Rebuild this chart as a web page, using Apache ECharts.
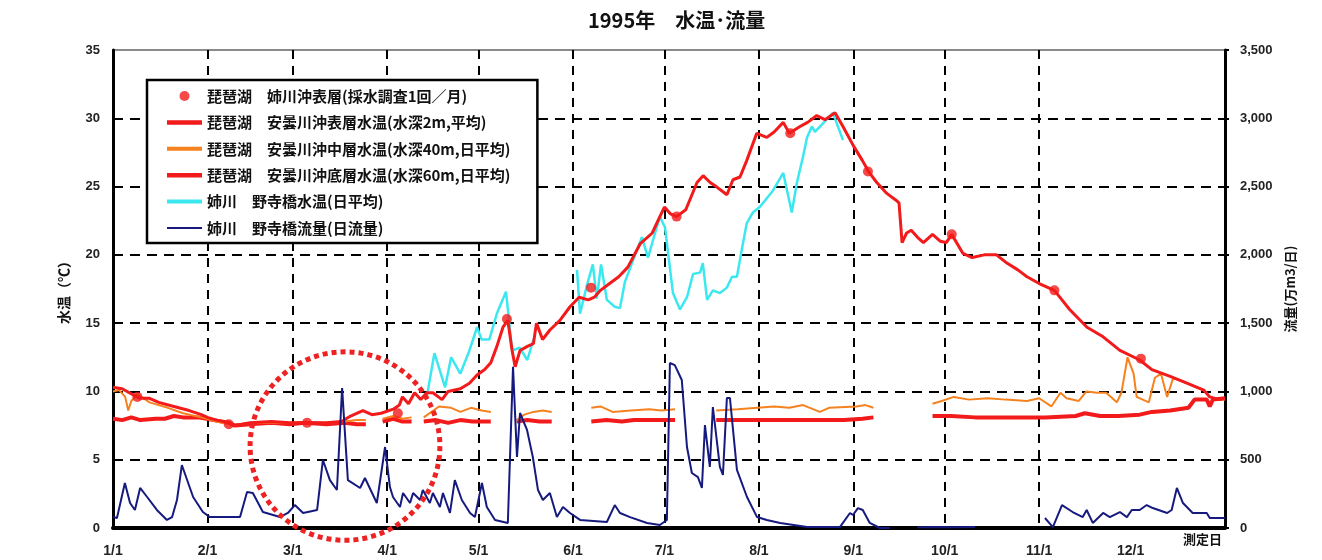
<!DOCTYPE html>
<html>
<head>
<meta charset="utf-8">
<script src="https://cdn.jsdelivr.net/npm/echarts@6.0.0/dist/echarts.min.js"></script>
<style>
  html, body { margin: 0; padding: 0; background: #fff; }
  #main { width: 1322px; height: 560px; }
</style>
</head>
<body>
<div id="main"></div>
<script>
// x = day of year (1/1 = 0), temperatures in °C, flow in 万m3/日
const monthStarts = [0, 31, 59, 90, 120, 151, 181, 212, 243, 273, 304, 334];
const monthLabels = ['1/1', '2/1', '3/1', '4/1', '5/1', '6/1', '7/1', '8/1', '9/1', '10/1', '11/1', '12/1'];

// 姉川沖表層 (monthly sampling)
const anegawaOffSurface = [[8, 9.6], [38, 7.6], [63.7, 7.7], [93.5, 8.4], [129.3, 15.3], [156.9, 17.6],
  [185, 22.8], [222.3, 28.9], [247.8, 26.1], [275.3, 21.5], [309, 17.4], [337.4, 12.4]];

// 安曇川沖表層 (2m)
const adoSurface = [[0, 10.3], [3, 10.2], [7, 9.7], [9, 9.5], [12, 9.5], [15, 9.2], [20, 8.9], [25, 8.6],
  [29, 8.3], [31, 8.1], [34, 7.9], [38, 7.7], [40, 7.5], [45, 7.7], [52, 7.8], [58, 7.7], [63, 7.7],
  [70, 7.7], [75, 7.8], [78, 8.2], [80, 8.4], [82, 8.6], [85, 8.3], [88, 8.4], [92, 8.7], [94, 9.0],
  [95, 9.6], [97, 9.1], [99, 9.9], [101, 9.4], [103, 9.9], [105, 9.9], [108, 9.4], [110, 10.0],
  [114, 10.2], [117, 10.6], [119.5, 11.2], [122, 11.6], [124, 12.1], [126, 13.3], [128, 14.7],
  [129.6, 15.2], [131, 13.0], [132, 11.8], [133.6, 13.0], [136, 13.3], [138, 13.5], [139, 15.0],
  [141, 13.8], [143.4, 14.5], [146.7, 15.2], [150, 16.2], [153, 16.9], [156, 16.7], [158, 16.9],
  [160, 17.4], [163, 17.9], [166, 18.4], [169, 19.1], [173, 20.8], [177, 21.6], [179.5, 22.8],
  [181, 23.5], [183, 23.0], [185, 22.8], [188, 23.3], [191.7, 25.3], [193.7, 25.8], [196, 25.3],
  [198, 25.0], [201.5, 24.4], [203.5, 25.5], [205.8, 25.7], [208, 26.9], [211.3, 28.9], [214.6, 28.6],
  [217, 29.0], [220, 29.7], [222, 28.9], [225.5, 29.4], [228, 29.7], [231, 30.2], [233.7, 29.9],
  [237, 30.4], [239.6, 29.4], [243, 28.0], [246, 26.9], [248, 26.1], [250.7, 25.3], [254, 24.5],
  [257, 24.0], [258, 23.8], [259, 20.9], [260.5, 21.6], [262, 21.8], [264, 21.3], [266, 20.9],
  [269, 21.5], [271.5, 21.0], [273.5, 20.9], [275.3, 21.5], [279, 20.1], [282, 19.8], [286, 20.0],
  [290, 20.0], [293.4, 19.4], [297, 18.9], [300, 18.4], [304, 17.9], [309, 17.4], [314, 16.0],
  [319.7, 14.7], [325, 14.0], [330.5, 13.0], [337, 12.3], [341, 11.6], [347, 11.1], [352.5, 10.6],
  [358, 10.1], [360, 9.6], [363, 9.4], [365, 9.5]];

// 安曇川沖中層 (40m), '-' = no data
const adoMiddle = [[0, 10.0], [2, 10.1], [4, 9.6], [5, 8.6], [6, 9.3], [8, 9.8], [12, 9.2], [18, 8.8],
  [23, 8.4], [29, 8.1], [34, 7.8], [38, 7.6], [40, 7.5], [45, 7.7], [52, 7.7], [58, 7.7], [63, 7.7],
  [70, 7.7], [76, 7.8], [80, 7.9], [83, 7.9], [83.1, '-'],
  [88.5, 8.0], [92, 8.2], [95, 8.0], [98, 8.1], [98.1, '-'],
  [102, 8.1], [107, 8.9], [111, 8.8], [114, 8.5], [117.5, 8.8], [121, 8.6], [124, 8.5], [124.1, '-'],
  [132.5, 7.9], [135, 8.3], [138, 8.5], [141, 8.6], [144, 8.5], [144.1, '-'],
  [157, 8.8], [160, 8.9], [164, 8.5], [170, 8.6], [176, 8.7], [180, 8.6], [184.5, 8.7], [184.6, '-'],
  [198, 8.6], [205, 8.7], [217, 8.9], [222, 8.8], [226.5, 9.0], [232, 8.5], [235, 8.8], [244, 8.9],
  [247, 9.0], [249.6, 8.8], [249.7, '-'],
  [269, 9.1], [272, 9.3], [276, 9.6], [281, 9.4], [287, 9.5], [293, 9.4], [300, 9.3], [304, 9.5],
  [308, 8.9], [311, 9.9], [313, 9.5], [317, 9.3], [319.5, 10.0], [323, 9.9], [326, 9.9], [329.5, 9.2],
  [331, 9.9], [333, 12.5], [335, 11.3], [336, 9.6], [340, 9.2], [342, 11.0], [344, 11.3], [346, 9.6],
  [348, 11.0], [352.5, 10.6], [358, 10.1], [360, 9.6], [363, 9.4], [365, 9.4]];

// 安曇川沖底層 (60m)
const adoBottom = [[0, 8.0], [3, 7.9], [6, 8.1], [9, 7.9], [14, 8.0], [17, 8.0], [20, 8.2], [23, 8.1],
  [28, 8.1], [33, 7.9], [38, 7.7], [40, 7.5], [45, 7.6], [52, 7.7], [58, 7.6], [63, 7.7], [70, 7.6],
  [76, 7.7], [80, 7.6], [83, 7.6], [83.1, '-'],
  [88.5, 7.8], [92, 8.0], [95, 7.8], [98, 7.8], [98.1, '-'],
  [102, 7.8], [106, 7.9], [110, 7.7], [114, 7.9], [118, 7.8], [124, 7.8], [124.1, '-'],
  [132.5, 7.8], [136, 7.9], [140, 7.8], [144, 7.8], [144.1, '-'],
  [157, 7.8], [162, 7.9], [167, 7.8], [171, 7.9], [176, 7.9], [184.5, 7.9], [184.6, '-'],
  [198, 7.9], [210, 7.9], [225, 7.9], [240, 7.9], [246, 8.0], [249.6, 8.1], [249.7, '-'],
  [269, 8.2], [275, 8.2], [283, 8.1], [290, 8.1], [300, 8.1], [306, 8.1], [316, 8.2], [319, 8.4],
  [324, 8.2], [330, 8.2], [337, 8.3], [341, 8.5], [347, 8.6], [353, 8.8], [355, 9.4], [359, 9.4],
  [360, 8.9], [361, 9.4], [365, 9.5]];

// 野寺橋水温
const nodera = [[103, 9.6], [105.5, 12.8], [109, 10.3], [111, 12.5], [114, 11.3], [117, 13.0],
  [119.5, 14.7], [121, 13.8], [123.5, 13.8], [126, 15.7], [129, 17.3], [131, 13.0], [133.5, 13.2],
  [136, 12.3], [138, 13.8], [138.1, '-'],
  [152.3, 18.9], [153.3, 15.7], [155.6, 17.8], [157.5, 19.3], [158.8, 16.8], [160.2, 19.3],
  [162.1, 16.7], [164.7, 16.2], [166.4, 16.1], [168, 18.0], [170.7, 19.6], [173.6, 21.3],
  [175.6, 19.8], [179.5, 22.8], [181.2, 22.0], [183.8, 17.2], [186.1, 16.0], [188.4, 16.9],
  [190.4, 18.6], [192.7, 18.7], [193.6, 19.4], [195, 16.7], [196.9, 17.4], [199.2, 17.2],
  [201.5, 17.6], [203.2, 18.4], [204.8, 18.4], [206.4, 20.4], [208, 22.3], [210, 23.1],
  [212.3, 23.5], [216.6, 24.7], [220, 26.0], [222.8, 23.1], [224.5, 25.3], [226.5, 27.2],
  [227.8, 28.6], [229.4, 29.4], [230.4, 29.0], [236.3, 30.4], [239.6, 28.4]];

// 野寺橋流量
const noderaFlow = [[0, 80], [1.3, 73], [3.9, 330], [5.6, 183], [7.2, 132], [8.9, 293], [11.2, 227],
  [14.4, 132], [17.7, 59], [19.4, 80], [21, 205], [22.6, 461], [26.3, 227], [29.5, 117], [31.8, 80],
  [41.7, 80], [44, 264], [45.9, 256], [49.2, 117], [54.8, 80], [57.4, 110], [59.7, 168], [62.4, 110],
  [67, 132], [68.9, 498], [71.2, 351], [73.5, 278], [75.2, 1025], [77.1, 351], [81.1, 293],
  [82.7, 366], [86.6, 183], [89.3, 593], [90.9, 300], [91.9, 227], [94.2, 154], [95.2, 256],
  [97.5, 183], [98.5, 256], [100.8, 205], [101.7, 278], [104, 183], [105, 256], [107.3, 154],
  [108.3, 256], [110.6, 110], [112.2, 351], [114.5, 205], [117.2, 110], [118.8, 80], [121.1, 330],
  [122.7, 154], [125.4, 59], [129.6, 37], [131.3, 1180], [132.6, 520], [133.6, 842], [135.9, 718],
  [137.8, 520], [139.5, 278], [141.1, 205], [143.4, 256], [145.7, 80], [147.7, 154], [150, 110],
  [153.3, 59], [162.1, 44], [164.7, 168], [166.4, 110], [169.7, 80], [175.3, 37], [179.5, 22],
  [181.8, 59], [182.8, 1208], [184.4, 1193], [186.7, 1084], [188.4, 593], [190, 403], [192, 373],
  [193.3, 293], [194.3, 754], [195.9, 447], [196.9, 886], [199.2, 447], [200.2, 388], [201.5, 952],
  [202.5, 952], [204.8, 425], [208.1, 227], [211.4, 80], [214.6, 59], [219, 37], [227.8, 7],
  [238.6, 7], [241.9, 110], [242.9, 95], [244.5, 146], [246.1, 132], [248.4, 37], [251.7, 0],
  [255, 0], [255.1, '-'],
  [264, 5], [270, 7], [276, 5], [283, 8], [283.1, '-'],
  [305.9, 73], [308.5, 7], [311.5, 168], [315, 117], [318.3, 80], [319.6, 132], [321.6, 37],
  [325, 110], [327.2, 80], [330.5, 117], [332.8, 80], [334.4, 132], [337, 132], [339.3, 168],
  [341.3, 146], [346, 110], [347.5, 132], [349.2, 293], [351.2, 183], [354.4, 110], [359, 110],
  [360, 73], [365, 73]];

const names = [
  '琵琶湖　姉川沖表層(採水調査1回／月)',
  '琵琶湖　安曇川沖表層水温(水深2m,平均)',
  '琵琶湖　安曇川沖中層水温(水深40m,日平均)',
  '琵琶湖　安曇川沖底層水温(水深60m,日平均)',
  '姉川　野寺橋水温(日平均)',
  '姉川　野寺橋流量(日流量)'
];

const RED = '#f21a1a', ORANGE = '#f5821f', CYAN = '#3ce8f0', NAVY = '#161a7e';
const labelFont = { fontFamily: 'Liberation Sans', fontWeight: 'bold', color: '#222' };
const jpFont = 'Noto Sans CJK JP';

const chart = echarts.init(document.getElementById('main'), null, { renderer: 'canvas' });

function lineSeries(name, data, color, width, yIndex) {
  return {
    name: name, type: 'line', data: data, yAxisIndex: yIndex || 0,
    showSymbol: false, symbol: 'none', connectNulls: false, animation: false,
    color: color, lineStyle: { color: color, width: width }
  };
}

chart.setOption({
  animation: false,
  title: [
    { text: '1995年　水温･流量', left: 588, top: 10, padding: 0,
      textStyle: { fontFamily: jpFont, fontSize: 20, fontWeight: 'bold', color: '#111' } },
    { text: '測定日', right: 100, top: 533, padding: 0,
      textStyle: { fontFamily: jpFont, fontSize: 13, fontWeight: 'bold', color: '#111' } }
  ],
  grid: { left: 113, right: 97, top: 50, bottom: 32, show: true, borderColor: '#8a8a8a', borderWidth: 2, backgroundColor: '#fff' },
  legend: {
    orient: 'vertical', left: 147, top: 80, padding: [8, 27, 7, 20], itemGap: 10.4,
    itemWidth: 35, itemHeight: 10, selectedMode: false,
    backgroundColor: '#fff', borderColor: '#000', borderWidth: 2.5,
    textStyle: { fontFamily: jpFont, fontSize: 15, fontWeight: 'bold', color: '#111', lineHeight: 16 },
    data: [
      { name: names[0], icon: 'circle' },
      { name: names[1], icon: 'path://M0,0H35V4.5H0Z' },
      { name: names[2], icon: 'path://M0,0H35V4H0Z' },
      { name: names[3], icon: 'path://M0,0H35V4.5H0Z' },
      { name: names[4], icon: 'path://M0,0H35V4H0Z' },
      { name: names[5], icon: 'path://M0,0H35V2.2H0Z' }
    ]
  },
  xAxis: {
    type: 'value', min: 0, max: 365,
    axisLine: { show: true, lineStyle: { color: '#000', width: 4 } },
    axisTick: { show: false, customValues: monthStarts },
    axisLabel: {
      customValues: monthStarts, margin: 16, fontSize: 14, ...labelFont,
      formatter: v => monthLabels[monthStarts.indexOf(Math.round(v))] || ''
    },
    splitLine: { show: true, showMinLine: false, showMaxLine: false,
      lineStyle: { color: '#000', width: 2, type: [9, 7] } }
  },
  yAxis: [
    {
      type: 'value', min: 0, max: 35, interval: 5, position: 'left',
      name: '水温（℃）', nameLocation: 'middle', nameRotate: 90, nameGap: 42,
      nameTextStyle: { fontFamily: jpFont, fontSize: 14, fontWeight: 'bold', color: '#111' },
      axisLine: { show: true, lineStyle: { color: '#000', width: 3 } },
      axisTick: { show: false },
      axisLabel: { margin: 13, fontSize: 13, ...labelFont },
      splitLine: { show: true, showMinLine: false, showMaxLine: false,
        lineStyle: { color: '#000', width: 2, type: [10, 7] } }
    },
    {
      type: 'value', min: 0, max: 3500, interval: 500, position: 'right',
      name: '流量(万m3/日)', nameLocation: 'middle', nameRotate: 90, nameGap: 58,
      nameTextStyle: { fontFamily: jpFont, fontSize: 13, fontWeight: 'bold', color: '#111' },
      axisLine: { show: true, lineStyle: { color: '#000', width: 3 } },
      axisTick: { show: true, length: 4, lineStyle: { color: '#000', width: 2 } },
      axisLabel: {
        margin: 15, fontSize: 13, ...labelFont,
        formatter: v => v >= 1000 ? Math.floor(v / 1000) + ',' + String(v % 1000).padStart(3, '0') : String(v)
      },
      splitLine: { show: false }
    }
  ],
  series: [
    lineSeries(names[3], adoBottom, RED, 4),
    lineSeries(names[2], adoMiddle, ORANGE, 2),
    lineSeries(names[4], nodera, CYAN, 2.5),
    lineSeries(names[1], adoSurface, RED, 3),
    lineSeries(names[5], noderaFlow, NAVY, 2, 1),
    {
      name: names[0], type: 'scatter', data: anegawaOffSurface, symbol: 'circle', symbolSize: 10,
      color: RED, itemStyle: { color: RED }, z: 5
    }
  ]
});

// red dotted ring annotation, placed from data coordinates
const ringBox = { dayLeft: 45, dayRight: 107.3, tempTop: 12.9, tempBottom: -0.9 };
const pTL = chart.convertToPixel({ xAxisIndex: 0, yAxisIndex: 0 }, [ringBox.dayLeft, ringBox.tempTop]);
const pBR = chart.convertToPixel({ xAxisIndex: 0, yAxisIndex: 0 }, [ringBox.dayRight, ringBox.tempBottom]);
chart.setOption({
  graphic: [{
    type: 'ellipse', z: 200,
    shape: { cx: (pTL[0] + pBR[0]) / 2, cy: (pTL[1] + pBR[1]) / 2, rx: (pBR[0] - pTL[0]) / 2, ry: (pBR[1] - pTL[1]) / 2 },
    style: { fill: null, stroke: '#ee2222', lineWidth: 5, lineDash: [5, 4] }
  }]
});
</script>
</body>
</html>
